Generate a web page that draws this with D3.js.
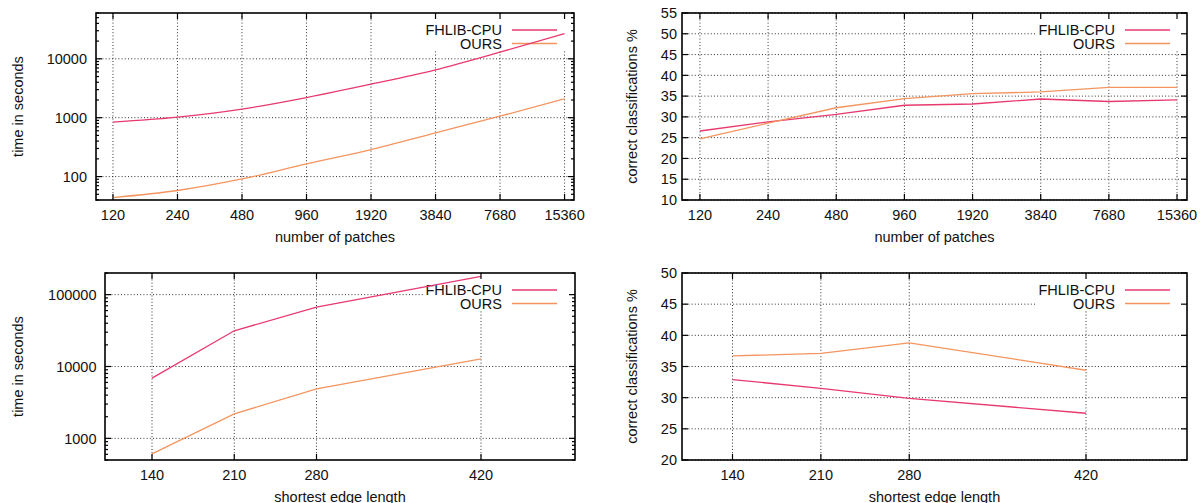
<!DOCTYPE html>
<meta charset="utf-8">
<style>
body { margin: 0; background: #fff; }
text { font-family: "Liberation Sans", Arial, sans-serif; font-size: 14.5px; fill: #111; }
.grid { stroke: #333; stroke-width: 1; stroke-dasharray: 1,2.2; }
.frame { fill: none; stroke: #000; stroke-width: 1.6; }
.tick { stroke: #000; stroke-width: 1.2; }
.curve { fill: none; stroke-width: 1.3; }
</style>
<svg width="1201" height="503"></svg>
<script src="https://d3js.org/d3.v7.min.js"></script>
<script>

// data
var patches = [120, 240, 480, 960, 1920, 3840, 7680, 15360];
var timeFhlibPatches = [840, 1020, 1400, 2200, 3700, 6500, 13000, 26800];
var timeOursPatches = [44, 58, 91, 164, 288, 553, 1060, 2090];
var accFhlibPatches = [26.6, 28.8, 30.6, 32.8, 33.1, 34.3, 33.7, 34.1];
var accOursPatches = [24.7, 28.5, 32.2, 34.4, 35.6, 36.0, 37.1, 37.1];

var edgeLengths = [140, 210, 280, 420];
var timeFhlibEdge = [6900, 31400, 67000, 179000];
var timeOursEdge = [607, 2190, 4870, 12800];
var accFhlibEdge = [32.9, 31.5, 29.9, 27.5];
var accOursEdge = [36.7, 37.1, 38.8, 34.4];

var seriesNames = ["FHLIB-CPU", "OURS"];
var colors = ["#e8396f", "#f4955f"];

var timeTicksTop = [100, 1000, 10000];
var timeTicksBottom = [1000, 10000, 100000];
var accTicksTop = d3.range(10, 56, 5);
var accTicksBottom = d3.range(20, 51, 5);

var svg = d3.select("svg");

function logMinors(domain) {
  var out = [];
  for (var p = Math.floor(Math.log10(domain[0])); p <= Math.ceil(Math.log10(domain[1])); p++) {
    for (var m = 2; m <= 9; m++) {
      var v = m * Math.pow(10, p);
      if (v >= domain[0] && v <= domain[1]) out.push(v);
    }
  }
  return out;
}

function panel(cfg) {
  var g = svg.append("g");
  var x = cfg.x.range([cfg.left, cfg.right]);
  var y = cfg.y.range([cfg.bottom, cfg.top]);

  // grid
  g.selectAll(".gx").data(cfg.xTicks).enter().append("line")
      .attr("class", "grid")
      .attr("x1", function(d) { return x(d); }).attr("x2", function(d) { return x(d); })
      .attr("y1", cfg.top).attr("y2", cfg.bottom);
  g.selectAll(".gy").data(cfg.yTicks).enter().append("line")
      .attr("class", "grid")
      .attr("x1", cfg.left).attr("x2", cfg.right)
      .attr("y1", function(d) { return y(d); }).attr("y2", function(d) { return y(d); });

  // key box (opaque)
  g.append("rect")
      .attr("x", cfg.keyX - 79).attr("y", cfg.top + 1)
      .attr("width", cfg.right - cfg.keyX + 78).attr("height", 37)
      .attr("fill", "#fff");

  seriesNames.forEach(function(name, i) {
    var ky = cfg.top + 17 + i * 13.5;
    g.append("text")
        .attr("x", cfg.keyX).attr("y", ky)
        .attr("dy", "0.36em").attr("text-anchor", "end")
        .text(name);
    g.append("line")
        .attr("x1", cfg.keyX + 10).attr("x2", cfg.keyX + 55)
        .attr("y1", ky).attr("y2", ky)
        .attr("stroke", colors[i]).attr("stroke-width", 1.3);
  });

  // curves
  var line = d3.line()
      .x(function(d) { return x(d[0]); })
      .y(function(d) { return y(d[1]); })
      .curve(cfg.curve || d3.curveLinear);
  cfg.series.forEach(function(vals, i) {
    g.append("path")
        .attr("class", "curve")
        .attr("stroke", colors[i])
        .attr("d", line(cfg.xs.map(function(v, j) { return [v, vals[j]]; })));
  });

  // ticks, both sides
  cfg.xTicks.forEach(function(d) {
    g.append("line").attr("class", "tick")
        .attr("x1", x(d)).attr("x2", x(d)).attr("y1", cfg.bottom).attr("y2", cfg.bottom - 6);
    g.append("line").attr("class", "tick")
        .attr("x1", x(d)).attr("x2", x(d)).attr("y1", cfg.top).attr("y2", cfg.top + 6);
    g.append("text")
        .attr("x", x(d)).attr("y", cfg.bottom + 15)
        .attr("dy", "0.36em").attr("text-anchor", "middle")
        .text(d);
  });
  cfg.yTicks.forEach(function(d) {
    g.append("line").attr("class", "tick")
        .attr("x1", cfg.left).attr("x2", cfg.left + 6).attr("y1", y(d)).attr("y2", y(d));
    g.append("line").attr("class", "tick")
        .attr("x1", cfg.right).attr("x2", cfg.right - 6).attr("y1", y(d)).attr("y2", y(d));
    g.append("text")
        .attr("x", cfg.left - cfg.labelGap).attr("y", y(d))
        .attr("dy", "0.36em").attr("text-anchor", "end")
        .text(d);
  });
  (cfg.yMinor || []).forEach(function(d) {
    g.append("line").attr("class", "tick")
        .attr("x1", cfg.left).attr("x2", cfg.left + 3).attr("y1", y(d)).attr("y2", y(d));
    g.append("line").attr("class", "tick")
        .attr("x1", cfg.right).attr("x2", cfg.right - 3).attr("y1", y(d)).attr("y2", y(d));
  });

  g.append("rect").attr("class", "frame")
      .attr("x", cfg.left).attr("y", cfg.top)
      .attr("width", cfg.right - cfg.left).attr("height", cfg.bottom - cfg.top);

  // axis titles
  g.append("text")
      .attr("x", (cfg.left + cfg.right) / 2).attr("y", cfg.bottom + 37)
      .attr("dy", "0.36em").attr("text-anchor", "middle")
      .text(cfg.xTitle);
  g.append("text")
      .attr("transform", "translate(" + cfg.yTitleX + "," + (cfg.top + cfg.bottom) / 2 + ") rotate(-90)")
      .attr("dy", "0.36em").attr("text-anchor", "middle")
      .text(cfg.yTitle);
}

var timeDomainTop = [40, 60000];
var timeDomainBottom = [500, 200000];

panel({
  left: 96, right: 574, top: 13, bottom: 200,
  x: d3.scaleLog().base(2).domain([100, 17000]),
  y: d3.scaleLog().domain(timeDomainTop),
  xs: patches, xTicks: patches, yTicks: timeTicksTop, yMinor: logMinors(timeDomainTop),
  series: [timeFhlibPatches, timeOursPatches], curve: d3.curveMonotoneX,
  labelGap: 9, keyX: 502, yTitleX: 18,
  xTitle: "number of patches", yTitle: "time in seconds"
});

panel({
  left: 682, right: 1187, top: 13, bottom: 200,
  x: d3.scaleLog().base(2).domain([100, 17000]),
  y: d3.scaleLinear().domain([10, 55]),
  xs: patches, xTicks: patches, yTicks: accTicksTop,
  series: [accFhlibPatches, accOursPatches],
  labelGap: 5, keyX: 1115, yTitleX: 632,
  xTitle: "number of patches", yTitle: "correct classifications %"
});

panel({
  left: 105, right: 575, top: 273, bottom: 460,
  x: d3.scaleLinear().domain([100, 500]),
  y: d3.scaleLog().domain(timeDomainBottom),
  xs: edgeLengths, xTicks: edgeLengths, yTicks: timeTicksBottom, yMinor: logMinors(timeDomainBottom),
  series: [timeFhlibEdge, timeOursEdge],
  labelGap: 8.5, keyX: 502, yTitleX: 18,
  xTitle: "shortest edge length", yTitle: "time in seconds"
});

panel({
  left: 682, right: 1187, top: 273, bottom: 460,
  x: d3.scaleLinear().domain([100, 500]),
  y: d3.scaleLinear().domain([20, 50]),
  xs: edgeLengths, xTicks: edgeLengths, yTicks: accTicksBottom,
  series: [accFhlibEdge, accOursEdge],
  labelGap: 5, keyX: 1115, yTitleX: 632,
  xTitle: "shortest edge length", yTitle: "correct classifications %"
});

</script>
